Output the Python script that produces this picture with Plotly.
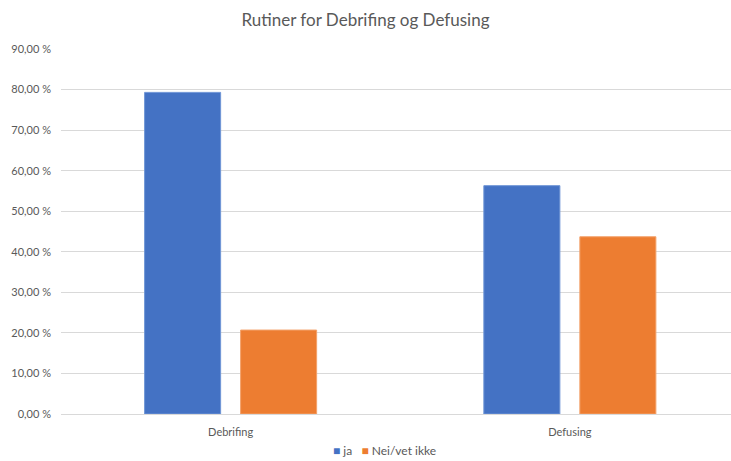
import plotly.graph_objects as go

# Survey results: share of answers per routine
categories = ["Debrifing", "Defusing"]
ja_values = [79.3, 56.3]
nei_values = [20.7, 43.7]
series_names = ["ja", "Nei/vet ikke"]
series_colors = ["#4472C4", "#ED7D31"]
y_ticks = [0, 10, 20, 30, 40, 50, 60, 70, 80, 90]
y_tick_labels = [f"{v:.2f}".replace(".", ",") + " %" for v in y_ticks]

FONT = "Lato, 'Open Sans', sans-serif"
TEXT = "#595959"

fig = go.Figure()
fig.add_trace(go.Bar(
    x=categories, y=ja_values, name=series_names[0],
    marker=dict(color=series_colors[0], line=dict(color="#6f95d6", width=1)),
))
fig.add_trace(go.Bar(
    x=categories, y=nei_values, name=series_names[1],
    marker=dict(color=series_colors[1], line=dict(color="#f3a26b", width=1)),
))

# Compact legend line below the category labels
legend_text = "   ".join(
    f"<span style='color:{c}'>■</span> {n}" for n, c in zip(series_names, series_colors)
)
fig.add_annotation(
    text=legend_text, xref="paper", yref="paper",
    x=(384 - 61) / 670, y=-37 / 365, xanchor="center", yanchor="middle",
    showarrow=False, font=dict(family=FONT, size=12, color=TEXT),
)

fig.update_layout(
    width=731, height=461,
    margin=dict(l=61, r=0, t=49, b=47),
    paper_bgcolor="white", plot_bgcolor="white",
    barmode="group", bargap=0.434, bargroupgap=0.208,
    font=dict(family=FONT, color=TEXT, size=11),
    title=dict(
        text="Rutiner for Debrifing og Defusing",
        x=0.5, xanchor="center", xref="container",
        y=1 - 20 / 461, yanchor="middle", yref="container",
        font=dict(family=FONT, size=17, color=TEXT),
    ),
    showlegend=False,
)
fig.update_xaxes(
    range=[-0.5, 1.475], showgrid=False, showline=False,
    ticks="", ticklabelstandoff=10,
    tickfont=dict(family=FONT, size=11, color=TEXT),
)
fig.update_yaxes(
    range=[0, 90], tickvals=y_ticks, ticktext=y_tick_labels,
    showgrid=True, gridcolor="#d9d9d9", gridwidth=1,
    zeroline=True, zerolinecolor="#d9d9d9", zerolinewidth=1,
    showline=False, ticks="", ticklabelstandoff=9,
    tickfont=dict(family=FONT, size=11, color=TEXT),
)

fig.write_html("out.html")
